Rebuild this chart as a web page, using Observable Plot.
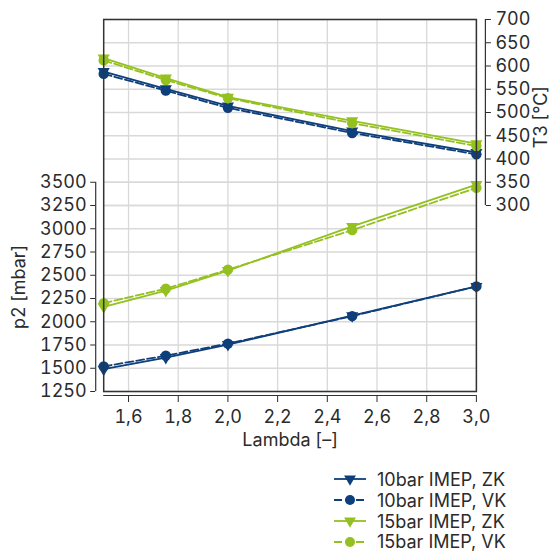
<!DOCTYPE html>
<html><head><meta charset="utf-8">
<script src="https://cdn.jsdelivr.net/npm/d3@7"></script>
<script src="https://cdn.jsdelivr.net/npm/@observablehq/plot@0.6"></script>
<style>
body{margin:0;background:#fff;font-family:Inter,"Open Sans",sans-serif;color:#2b2b2b;}
#legend{padding-top:9px;margin-left:333px;}
.row{display:flex;align-items:center;height:20.8px;font-size:18px;white-space:nowrap;}
.row svg{margin-right:10px;flex:none;}
</style></head><body>
<div id="chart"></div><div id="legend"></div>
<script>
// ---- data ----
const lambda = [1.5, 1.75, 2.0, 2.5, 3.0];
const p2_10_ZK = [1490, 1615, 1755, 2065, 2380];
const p2_10_VK = [1520, 1635, 1765, 2060, 2380];
const p2_15_ZK = [2160, 2335, 2550, 3025, 3475];
const p2_15_VK = [2200, 2355, 2560, 2985, 3440];
const T3_10_ZK = [588, 551, 514, 460, 414];
const T3_10_VK = [583, 547, 510, 456, 410];
const T3_15_ZK = [617, 574, 533, 482, 433];
const T3_15_VK = [612, 570, 531, 477, 428];
const seriesNames = ["10bar IMEP, ZK", "10bar IMEP, VK", "15bar IMEP, ZK", "15bar IMEP, VK"];
const p2Ticks = [1250, 1500, 1750, 2000, 2250, 2500, 2750, 3000, 3250, 3500];
const t3Ticks = [300, 350, 400, 450, 500, 550, 600, 650, 700];
const lambdaTicks = [1.6, 1.8, 2.0, 2.2, 2.4, 2.6, 2.8, 3.0];
const labels = {x: "Lambda [–]", yLeft: "p2 [mbar]", yRight: "T3 [°C]"};

const blue = "#0e3f7a", green = "#94c11f";
const styles = [
  {color: blue, dash: null, symbol: "triangle", rotate: 180},
  {color: blue, dash: "8,3", symbol: "circle", rotate: 0},
  {color: green, dash: null, symbol: "triangle", rotate: 180},
  {color: green, dash: "8,3", symbol: "circle", rotate: 0}
];
const p2Sets = [p2_10_ZK, p2_10_VK, p2_15_ZK, p2_15_VK];
const t3Sets = [T3_10_ZK, T3_10_VK, T3_15_ZK, T3_15_VK];

// T3 axis shares the plot frame with p2: T3 = 350 aligned with p2 = 3500, 50 °C per 250 mbar
const t3ToP2 = t => 5 * t + 1750;
const p2ToT3 = p => (p - 1750) / 5;
const FS = 18;

const marks = [];
marks.push(Plot.gridY([...p2Ticks, ...t3Ticks.map(t3ToP2)], {stroke: "#d9d9d9", strokeOpacity: 1, strokeWidth: 1.3}));
marks.push(Plot.gridX(lambdaTicks, {stroke: "#d9d9d9", strokeOpacity: 1, strokeWidth: 1.3}));

seriesNames.forEach((name, k) => {
  const st = styles[k];
  const rows = lambda.map((x, i) => ({x, p2: p2Sets[k][i], t3: t3ToP2(t3Sets[k][i])}));
  for (const key of ["t3", "p2"]) {
    marks.push(Plot.line(rows, {x: "x", y: key, stroke: st.color, strokeWidth: 1.8, strokeDasharray: st.dash}));
    marks.push(Plot.dot(rows, {x: "x", y: key, fill: st.color, stroke: "none", symbol: st.symbol, rotate: st.rotate, r: st.symbol === "circle" ? 5.2 : 4.5}));
  }
});

marks.push(Plot.frame({stroke: "#333", strokeWidth: 1.5}));
// left axis (p2)
marks.push(Plot.ruleX([1.5], {y1: 1250, y2: 3500, dx: -8, stroke: "#333", strokeWidth: 1.2}));
marks.push(Plot.axisY(p2Ticks, {anchor: "left", tickSize: 5, tickPadding: 4, dx: -8, fontSize: FS, label: null, tickFormat: d => String(d)}));
// right axis (T3)
marks.push(Plot.ruleX([3.0], {y1: t3ToP2(300), y2: t3ToP2(700), dx: 9, stroke: "#333", strokeWidth: 1.2}));
marks.push(Plot.axisY(t3Ticks.map(t3ToP2), {anchor: "right", tickSize: 5, tickPadding: 5, dx: 9, fontSize: FS, label: null, tickFormat: d => String(p2ToT3(d))}));
// x axis
marks.push(Plot.ruleY([1250], {x1: 1.5, x2: 3.0, dy: 4, stroke: "#333", strokeWidth: 1.2}));
marks.push(Plot.axisX(lambdaTicks, {anchor: "bottom", tickSize: 7, tickPadding: 8, dy: 4, fontSize: FS, label: null, tickFormat: d => d.toFixed(1).replace(".", ",")}));
// axis titles
marks.push(Plot.text([labels.yLeft], {x: () => 1.5, y: () => 2375, text: d => d, rotate: -90, dx: -84, fontSize: FS, fill: "#2b2b2b"}));
marks.push(Plot.text([labels.yRight], {x: () => 3.0, y: () => t3ToP2(490), text: d => d, rotate: -90, dx: 65, fontSize: FS, fill: "#2b2b2b"}));
marks.push(Plot.text([labels.x], {x: () => 2.25, y: () => 1250, text: d => d, dy: 49, fontSize: FS, fill: "#2b2b2b"}));

const chart = Plot.plot({
  width: 551, height: 460,
  marginLeft: 103.2, marginRight: 75.1, marginTop: 19, marginBottom: 69,
  x: {domain: [1.5, 3.0]},
  y: {domain: [1250, 5250]},
  style: {fontFamily: 'Inter,"Open Sans",sans-serif', fontSize: FS + "px", color: "#2b2b2b", background: "#fff", overflow: "visible"},
  marks
});
document.getElementById("chart").appendChild(chart);

// legend
const legend = d3.select("#legend");
seriesNames.forEach((name, k) => {
  const st = styles[k];
  const row = legend.append("div").attr("class", "row");
  const svg = row.append("svg").attr("width", 34).attr("height", 20);
  svg.append("line").attr("x1", 1).attr("x2", 33).attr("y1", 10).attr("y2", 10)
    .attr("stroke", st.color).attr("stroke-width", 1.8).attr("stroke-dasharray", st.dash);
  const sym = d3.symbol(st.symbol === "circle" ? d3.symbolCircle : d3.symbolTriangle, Math.PI * (st.symbol === "circle" ? 25 : 19.4));
  svg.append("path").attr("d", sym()).attr("fill", st.color)
    .attr("transform", `translate(17,10) rotate(${st.rotate})`);
  row.append("span").text(name);
});
</script>
</body></html>
